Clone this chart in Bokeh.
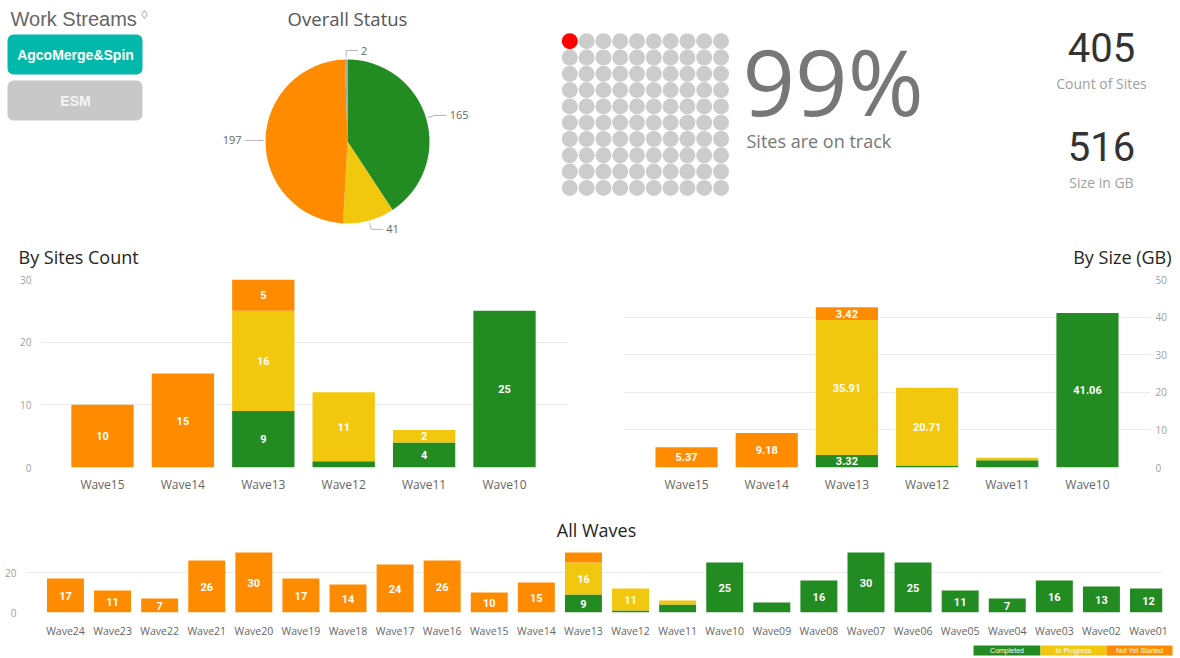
import numpy as np
from bokeh.plotting import figure
from bokeh.layouts import column, row
from bokeh.models import Range1d, ColumnDataSource, FixedTicker
from bokeh.core.properties import value
from bokeh.embed import file_html
from bokeh.resources import INLINE

# ---------------- data ----------------
status_names = ["Completed", "In Progress", "Not Yet Started", "Unknown"]
status_colors = ["#228B22", "#F2C80F", "#FF8C00", "#A6A6A6"]
pie_values = [165, 41, 197, 2]

work_streams = ["AgcoMerge&Spin", "ESM"]
work_stream_fill = ["#01B8AA", "#C8C8C8"]
work_stream_text = ["#FFFFFF", "#F4F4F4"]

on_track_pct = 99
kpi_values = ["405", "516"]
kpi_labels = ["Count of Sites", "Size in GB"]

recent_waves = ["Wave15", "Wave14", "Wave13", "Wave12", "Wave11", "Wave10"]
sites_completed = [0, 0, 9, 1, 4, 25]
sites_in_progress = [0, 0, 16, 11, 2, 0]
sites_not_started = [10, 15, 5, 0, 0, 0]
sites_ticks = [0, 10, 20, 30]

size_completed = [0, 0, 3.32, 0.5, 1.9, 41.06]
size_in_progress = [0, 0, 35.91, 20.71, 0.7, 0]
size_not_started = [5.37, 9.18, 3.42, 0, 0, 0]
size_ticks = [0, 10, 20, 30, 40, 50]

all_waves = ["Wave24", "Wave23", "Wave22", "Wave21", "Wave20", "Wave19", "Wave18",
             "Wave17", "Wave16", "Wave15", "Wave14", "Wave13", "Wave12", "Wave11",
             "Wave10", "Wave09", "Wave08", "Wave07", "Wave06", "Wave05", "Wave04",
             "Wave03", "Wave02", "Wave01"]
all_completed = [0, 0, 0, 0, 0, 0, 0, 0, 0, 0, 0, 9, 1, 4, 25, 5, 16, 30, 25, 11, 7, 16, 13, 12]
all_in_progress = [0, 0, 0, 0, 0, 0, 0, 0, 0, 0, 0, 16, 11, 2, 0, 0, 0, 0, 0, 0, 0, 0, 0, 0]
all_not_started = [17, 11, 7, 26, 30, 17, 14, 24, 26, 10, 15, 5, 0, 0, 0, 0, 0, 0, 0, 0, 0, 0, 0, 0]
all_ticks = [0, 20]

TEXT = "Open Sans"
NUM = "Roboto"
ARIAL = "Liberation Sans"


# ---------------- helpers ----------------
def canvas(x0, x1, y0, y1):
    """Blank figure whose data coords equal page pixels (y negated)."""
    return figure(width=x1 - x0, height=y1 - y0,
                  x_range=Range1d(x0, x1), y_range=Range1d(-y1, -y0),
                  x_axis_type=None, y_axis_type=None,
                  toolbar_location=None, output_backend="svg",
                  min_border=0, outline_line_color=None,
                  background_fill_color="white", border_fill_color="white")


def put_text(p, x, y, s, size, color, font=TEXT, align="left",
             baseline="middle", style="normal"):
    p.text(x=[x], y=[-y], text=[s], text_font=value(font),
           text_font_size=value(size), text_color=color, text_align=align,
           text_baseline=baseline, text_font_style=style)


def stacked_chart(cats, stacks, ticks, ymax, xlo, xhi, bar_w, width, height,
                  borders, y_loc, label_min, fmt, xlabel_size, xlabel_standoff,
                  ylabel_standoff, bar_label_size):
    n = len(cats)
    xs = np.arange(n)
    p = figure(width=width, height=height, x_range=Range1d(xlo, xhi),
               y_range=Range1d(0, ymax), toolbar_location=None,
               output_backend="svg", y_axis_location=y_loc,
               min_border_left=borders[0], min_border_right=borders[1],
               min_border_top=borders[2], min_border_bottom=borders[3],
               outline_line_color=None, background_fill_color="white",
               border_fill_color="white")
    keys = ["completed", "in_progress", "not_started"]
    data = dict(x=xs)
    for k, s in zip(keys, stacks):
        data[k] = list(s)
    p.vbar_stack(keys, x="x", width=bar_w, fill_color=status_colors[:3],
                 line_color=None, source=ColumnDataSource(data))
    lx, ly, lt = [], [], []
    base = np.zeros(n)
    for s in stacks:
        s = np.asarray(s, dtype=float)
        for i in range(n):
            if s[i] >= label_min:
                lx.append(i)
                ly.append(base[i] + s[i] / 2)
                lt.append(fmt(s[i]))
        base = base + s
    p.text(x=lx, y=ly, text=lt, text_font=value(NUM),
           text_font_size=value(bar_label_size), text_font_style="bold",
           text_color="white", text_align="center", text_baseline="middle")
    for ax in p.axis:
        ax.axis_line_color = None
        ax.major_tick_line_color = None
        ax.minor_tick_line_color = None
        ax.major_tick_out = 0
        ax.major_tick_in = 0
        ax.minor_tick_out = 0
        ax.minor_tick_in = 0
    p.xaxis.ticker = FixedTicker(ticks=list(range(n)))
    p.xaxis.major_label_overrides = {i: c for i, c in enumerate(cats)}
    p.xaxis.major_label_text_font = TEXT
    p.xaxis.major_label_text_font_size = xlabel_size
    p.xaxis.major_label_text_color = "#666666"
    p.xaxis.major_label_standoff = xlabel_standoff
    p.yaxis.ticker = FixedTicker(ticks=ticks)
    p.yaxis.major_label_text_font = TEXT
    p.yaxis.major_label_text_font_size = "10px"
    p.yaxis.major_label_text_color = "#A0A0A0"
    p.yaxis.major_label_standoff = ylabel_standoff
    p.xgrid.visible = False
    p.ygrid.ticker = FixedTicker(ticks=ticks)
    p.ygrid.grid_line_color = "#EBEBEB"
    p.ygrid.grid_line_width = 1
    return p


W = 1178

# ---------------- row 1 ----------------
# Work streams slicer
pA = canvas(0, 200, 0, 240)
put_text(pA, 10, 18, "Work Streams", "20px", "#666666", font=ARIAL)
pA.scatter([144], [-14], marker="diamond", size=8, fill_color=None,
           line_color="#AAAAAA", line_width=1)
btn_tops = [34, 80]
btn_h = 40
pA.quad(left=7, right=142, top=[-t for t in btn_tops],
        bottom=[-(t + btn_h) for t in btn_tops], fill_color=work_stream_fill,
        line_color=None, border_radius=6)
for name, t, col in zip(work_streams, btn_tops, work_stream_text):
    put_text(pA, 75, t + btn_h / 2, name, "14px", col, font=ARIAL,
             align="center", style="bold")

# Pie
pB = canvas(200, 530, 0, 240)
put_text(pB, 347, 18, "Overall Status", "18.5px", "#555555", align="center")
cx, cy, r = 347, 141, 82
vals = np.asarray(pie_values, dtype=float)
cum = np.concatenate([[0.0], np.cumsum(vals)])
start = np.pi / 2 - 2 * np.pi * cum[:-1] / vals.sum()
end = np.pi / 2 - 2 * np.pi * cum[1:] / vals.sum()
pB.wedge(x=cx, y=-cy, radius=r, start_angle=start, end_angle=end,
         direction="clock", fill_color=status_colors, line_color=None)
mid = (start + end) / 2
dxs, dys = np.cos(mid), np.sin(mid)
xs_l, ys_l, tx, ty, ta = [], [], [], [], []
for dx, dy, v in zip(dxs, dys, pie_values):
    side = 1 if dx >= -0.05 else -1
    x1, y1 = cx + (r + 2) * dx, -cy + (r + 2) * dy
    x2, y2 = cx + (r + 9) * dx, -cy + (r + 9) * dy
    x3 = x2 + side * 12
    xs_l.append([x1, x2, x3])
    ys_l.append([y1, y2, y2])
    tx.append(x3 + side * 3)
    ty.append(y2)
    ta.append("left" if side > 0 else "right")
pB.multi_line(xs=xs_l, ys=ys_l, line_color="#B5B5B5", line_width=1)
pB.text(x=tx, y=ty, text=[str(v) for v in pie_values], text_font=value(TEXT),
        text_font_size=value("11px"), text_color="#666666", text_align=ta,
        text_baseline="middle")

# Dot grid + percentage
pC = canvas(530, 1030, 0, 240)
n_dots = 100
idx = np.arange(n_dots)
dot_x = 569.3 + 16.8 * (idx % 10)
dot_y = 40.7 + 16.3 * (idx // 10)
n_off = n_dots - on_track_pct
dot_colors = ["#FF0000" if i < n_off else "#CCCCCC" for i in idx]
pC.scatter(dot_x, -dot_y, size=16, fill_color=dot_colors, line_color=None)
put_text(pC, 742, 80, f"{on_track_pct}%", "92px", "#777777")
put_text(pC, 746, 140, "Sites are on track", "18px", "#777777")

# KPI cards
pD = canvas(1030, W, 0, 240)
for val, lab, yv, yl in zip(kpi_values, kpi_labels, [47, 146], [83, 182]):
    put_text(pD, 1101, yv, val, "40px", "#333333", font=NUM, align="center")
    put_text(pD, 1101, yl, lab, "14px", "#A0A0A0", align="center")

# ---------------- row 2 ----------------
pT2 = canvas(0, W, 240, 271)
put_text(pT2, 18, 256, "By Sites Count", "18px", "#252423")
put_text(pT2, 1171, 256, "By Size (GB)", "18px", "#252423", align="right")

pL = stacked_chart(recent_waves, [sites_completed, sites_in_progress, sites_not_started],
                   sites_ticks, 30, -0.771, 5.796, 0.775, 600, 229,
                   (40, 32, 8, 33), "left", 1.5, lambda v: f"{v:.0f}",
                   "12px", 8, 9, "11px")
pR = stacked_chart(recent_waves, [size_completed, size_in_progress, size_not_started],
                   size_ticks, 50, -0.786, 5.786, 0.775, W - 600, 229,
                   (23, W - 1150, 8, 33), "right", 2.5, lambda v: f"{v:.2f}",
                   "12px", 8, 5, "11px")

# ---------------- row 3 ----------------
pT3 = canvas(0, W, 500, 541)
put_text(pT3, 596, 529, "All Waves", "18px", "#252423", align="center")

pAll = stacked_chart(all_waves, [all_completed, all_in_progress, all_not_started],
                     all_ticks, 31.5, -0.8275, 23.297, 0.785, W, 99,
                     (26, W - 1162, 8, 24), "left", 6, lambda v: f"{v:.0f}",
                     "10.5px", 11, 10, "11px")

# legend strip
pLeg = canvas(0, W, 640, 656)
leg_edges = [973, 1040, 1106, 1172]
pLeg.quad(left=leg_edges[:-1], right=leg_edges[1:], top=-645, bottom=-655,
          fill_color=status_colors[:3], line_color=None)
pLeg.text(x=[(a + b) / 2 for a, b in zip(leg_edges[:-1], leg_edges[1:])],
          y=[-650] * 3, text=status_names[:3], text_font=value(ARIAL),
          text_font_size=value("7px"), text_color="white", text_align="center",
          text_baseline="middle")

# each full-width strip is wrapped in its own row so that the column does not
# align its plot frames with the bar chart below
layout = column(
    row(pA, pB, pC, pD),
    row(pT2),
    row(pL, pR),
    row(pT3),
    row(pAll),
    row(pLeg),
)

open("out.html", "w").write(file_html(layout, INLINE))
